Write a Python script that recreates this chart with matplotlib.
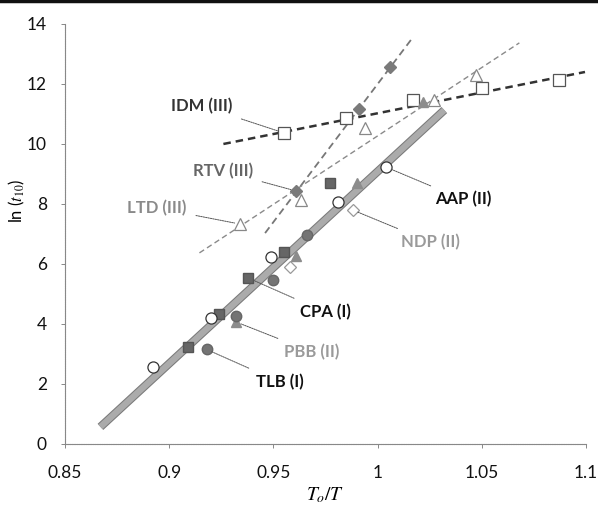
import matplotlib
matplotlib.use("Agg")
import matplotlib.pyplot as plt
import matplotlib.patheffects as pe
from matplotlib.lines import Line2D

# --- measured points, ln(t10) versus To/T ---
aap_x = [0.892, 0.920, 0.949, 0.981, 1.004]
aap_y = [2.55, 4.20, 6.23, 8.07, 9.23]
tlb_x = [0.918, 0.932, 0.950, 0.966]
tlb_y = [3.15, 4.28, 5.47, 6.97]
cpa_x = [0.909, 0.924, 0.938, 0.955, 0.977]
cpa_y = [3.22, 4.33, 5.53, 6.40, 8.70]
pbb_x = [0.932, 0.961, 0.990, 1.022]
pbb_y = [4.07, 6.27, 8.70, 11.40]
ndp_x = [0.958, 0.988]
ndp_y = [5.90, 7.80]
rtv_x = [0.961, 0.991, 1.006]
rtv_y = [8.43, 11.17, 12.57]
ltd_x = [0.934, 0.963, 0.994, 1.027, 1.047]
ltd_y = [7.33, 8.13, 10.53, 11.47, 12.30]
idm_x = [0.955, 0.985, 1.017, 1.050, 1.087]
idm_y = [10.37, 10.87, 11.47, 11.87, 12.13]

# trend line end points
main_fit_x = [0.867, 1.032]
main_fit_y = [0.57, 11.13]
rtv_fit_x = [0.946, 1.016]
rtv_fit_y = [7.03, 13.47]
ltd_fit_x = [0.9145, 1.068]
ltd_fit_y = [6.37, 13.37]
idm_fit_x = [0.926, 1.0995]
idm_fit_y = [10.0, 12.4]

# labels: text, text position, point it refers to, colour
labels = [
    ("IDM (III)", (0.9155, 11.27), (0.955, 10.37), "#333333"),
    ("RTV (III)", (0.9256, 9.10), (0.961, 8.43), "#666666"),
    ("LTD (III)", (0.894, 7.87), (0.934, 7.33), "#8a8a8a"),
    ("AAP (II)", (1.041, 8.15), (1.004, 9.23), "#111111"),
    ("NDP (II)", (1.0253, 6.73), (0.988, 7.80), "#9a9a9a"),
    ("CPA (I)", (0.9748, 4.40), (0.938, 5.53), "#111111"),
    ("PBB (II)", (0.9685, 3.07), (0.932, 4.07), "#9a9a9a"),
    ("TLB (I)", (0.953, 2.07), (0.918, 3.15), "#111111"),
]

plt.rcParams["font.family"] = ["Lato", "DejaVu Sans"]

fig = plt.figure(figsize=(5.98, 5.08), dpi=100)
ax = fig.add_axes([0.1087, 0.126, 0.8713, 0.8268])

# trend lines
ax.plot(main_fit_x, main_fit_y, color="#ababab", lw=4.5, solid_capstyle="butt",
        path_effects=[pe.Stroke(linewidth=6, foreground="#7a7a7a"), pe.Normal()],
        zorder=2)
ax.plot(idm_fit_x, idm_fit_y, color="#333333", lw=1.8, ls=(0, (3, 2)), zorder=2)
ax.plot(rtv_fit_x, rtv_fit_y, color="#777777", lw=1.3, ls=(0, (4, 2.5)), zorder=2)
ax.plot(ltd_fit_x, ltd_fit_y, color="#8a8a8a", lw=1.0, ls=(0, (4, 2.5)), zorder=2)

# markers
ax.plot(idm_x, idm_y, ls="none", marker="s", ms=8, mfc="white", mec="#555555", mew=0.9, zorder=3)
ax.plot(ltd_x, ltd_y, ls="none", marker="^", ms=9, mfc="white", mec="#888888", mew=0.9, zorder=3)
ax.plot(rtv_x, rtv_y, ls="none", marker="D", ms=6.5, mfc="#7a7a7a", mec="#7a7a7a", zorder=4)
ax.plot(ndp_x, ndp_y, ls="none", marker="D", ms=6, mfc="white", mec="#999999", mew=0.9, zorder=3)
ax.plot(pbb_x, pbb_y, ls="none", marker="^", ms=7.5, mfc="#8c8c8c", mec="#8c8c8c", zorder=3)
ax.plot(cpa_x, cpa_y, ls="none", marker="s", ms=7.5, mfc="#666666", mec="#555555", zorder=3)
ax.plot(tlb_x, tlb_y, ls="none", marker="o", ms=7.5, mfc="#747474", mec="#666666", zorder=3)
ax.plot(aap_x, aap_y, ls="none", marker="o", ms=8, mfc="white", mec="#333333", mew=0.9, zorder=3)

for text, xy_text, xy_tip, color in labels:
    ax.annotate(text, xy=xy_tip, xytext=xy_text, ha="center", va="center",
                fontsize=12, fontweight="bold", color=color,
                arrowprops=dict(arrowstyle="-", color="#555555", lw=0.7,
                                ls=(0, (1.5, 1)), shrinkA=5, shrinkB=4))

ax.set_xlim(0.85, 1.1)
ax.set_ylim(0, 14)
ax.set_xticks([0.85, 0.9, 0.95, 1.0, 1.05, 1.1])
ax.set_xticklabels(["0.85", "0.9", "0.95", "1", "1.05", "1.1"])
ax.set_yticks(range(0, 15, 2))

for side in ("top", "right"):
    ax.spines[side].set_visible(False)
for side in ("left", "bottom"):
    ax.spines[side].set_color("#888888")
    ax.spines[side].set_linewidth(0.8)
    ax.spines[side].set_linestyle((0, (1, 0.6)))
ax.tick_params(direction="out", length=3, width=0.7, color="#888888",
               labelsize=12.5, labelcolor="#111111", pad=10)
ax.tick_params(axis="x", pad=12)

ax.set_xlabel("$T_o/T$", fontsize=14, math_fontfamily="stix", labelpad=3)
ax.set_ylabel(r"ln ($t_{10}$)", fontsize=12, math_fontfamily="stix")
ax.yaxis.set_label_coords(-0.072, 0.58)

# dark rule across the top edge
fig.add_artist(Line2D([0, 1], [0.998, 0.998], color="#111111", lw=2.5,
                      transform=fig.transFigure))

fig.savefig("out.png", dpi=100, facecolor="white")
